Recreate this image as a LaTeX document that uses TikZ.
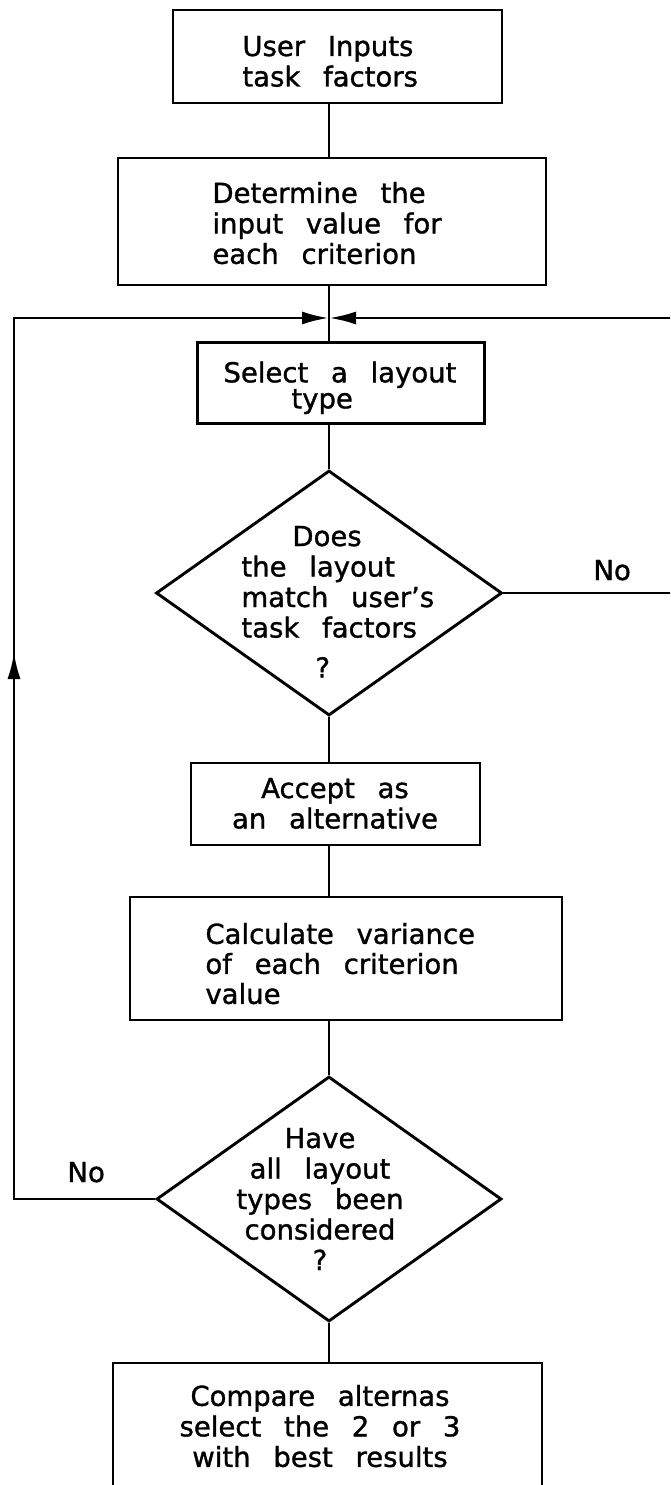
\documentclass[tikz,border=0pt]{standalone}
\usepackage{fontspec}
\setmainfont{DejaVu Sans}[WordSpace=2.6,FakeBold=1.2]
\usetikzlibrary{shapes.geometric,arrows.meta}
\begin{document}
\begin{tikzpicture}[x=1pt,y=-1pt,
  line width=2.9pt,
  box/.style={draw,rectangle,inner sep=0pt},
  decision/.style={draw,diamond,inner sep=0pt},
  txt/.style={inner sep=0pt,font=\fontsize{27.5}{30.5}\selectfont},
  arrowhd/.style={-{Latex[length=27pt,width=13pt]}}]

\useasboundingbox (0,0) rectangle (670,1485);
\clip (0,0) rectangle (670,1485);

% vertical spine of the main flow
\coordinate (sp) at (329,0);

% process boxes and decisions
\node[box,minimum width=329pt,minimum height=93pt]  (b1) at (337.5,56.5) {};
\node[box,minimum width=428pt,minimum height=127pt] (b2) at (332,221.5) {};
\node[box,minimum width=287pt,minimum height=81pt]  (b3) at (341,383) {};
\node[decision,minimum width=346pt,minimum height=245pt] (d1) at (329,593) {};
\node[box,minimum width=289pt,minimum height=82pt]  (b4) at (335.5,804) {};
\node[box,minimum width=432pt,minimum height=123pt] (b5) at (346,958.5) {};
\node[decision,minimum width=345pt,minimum height=245pt] (d2) at (329,1199) {};
\node[box,minimum width=429pt,minimum height=147pt] (b6) at (327.5,1436.5) {};

% texts
\node[txt,align=left,anchor=north west] (b1t) at (241,34.5) {User Inputs\\task factors};
\node[txt,align=left,anchor=north west] (b2t) at (211,180.5) {Determine the\\input value for\\each criterion};
\node[txt,align=left,anchor=north west] (b3t) at (222,360) {Select a layout\\[-4.5pt]\hspace*{68pt}type};
\node[txt,align=left,anchor=north west] (d1t) at (240,524.5)
  {\hspace*{51pt}Does\\the layout\\match user's\\task factors\\[9.5pt]\hspace*{74pt}?};
\node[txt,align=center,anchor=north] (b4t) at (335,776.5) {Accept as\\an alternative};
\node[txt,align=left,anchor=north west] (b5t) at (204,921.5) {Calculate variance\\[-0.5pt]of each criterion\\[-0.5pt]value};
\node[txt,align=center,anchor=north] (d2t) at (320,1126.5) {Have\\all layout\\types been\\considered\\?};
\node[txt,align=center,anchor=north] (b6t) at (320,1383.5) {Compare alternas\\select the 2 or 3\\with best results};
\node[txt,anchor=base west] (no1) at (592,580) {No};
\node[txt,anchor=base west] (no2) at (66,1182) {No};

% main flow
\draw (b1.south -| sp) -- (b2.north -| sp);
\draw (b2.south -| sp) -- (b3.north -| sp);
\draw (b3.south -| sp) -- (d1.north);
\draw (d1.south) -- (b4.north -| sp);
\draw (b4.south -| sp) -- (b5.north -| sp);
\draw (b5.south -| sp) -- (d2.north);
\draw (d2.south) -- (b6.north -| sp);

% loop-back lines into the junction
\coordinate (j)  at (329,318);
\coordinate (lt) at (14,318);
\coordinate (rt) at (672,318);
\coordinate (re) at (672,593);
\coordinate (lb) at (14,1199);
\coordinate (la) at (14,652);

\draw[arrowhd] (rt) -- (j);
\draw (d1.east) -- (re);
\draw[arrowhd] (d2.west) -- (lb) -- (lt) -- (j);
\draw[arrowhd] (lb) -- (la);
\end{tikzpicture}
\end{document}
